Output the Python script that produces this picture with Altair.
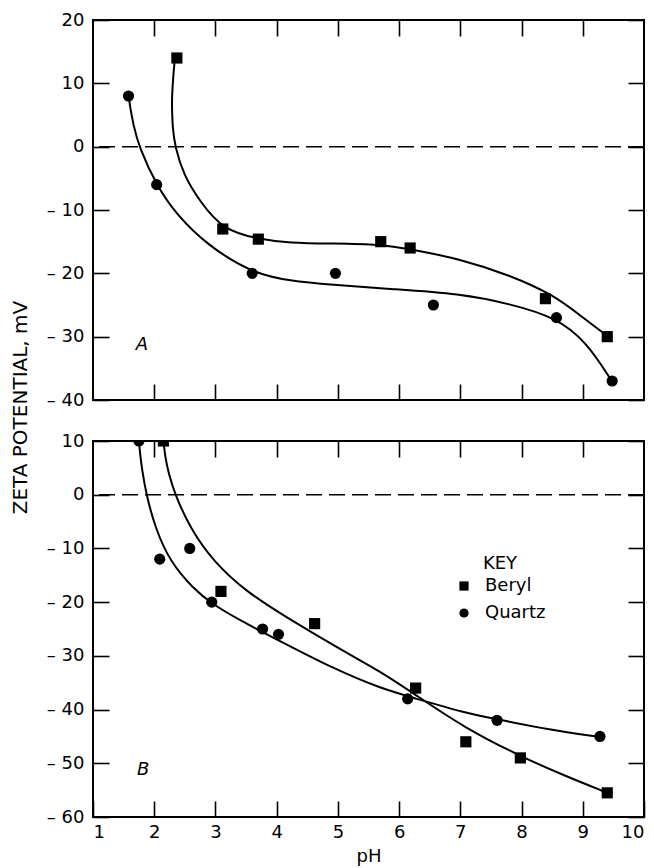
import altair as alt
import pandas as pd

MINERALS = ["Beryl", "Quartz"]
SHAPES = ["square", "circle"]

# ---------------- Panel A : measured points ----------------
a_beryl_ph = [2.37, 3.12, 3.70, 5.70, 6.18, 8.39, 9.40]
a_beryl_zeta = [14, -13, -14.6, -15, -16, -24, -30]
a_quartz_ph = [1.58, 2.04, 3.60, 4.96, 6.56, 8.57, 9.48]
a_quartz_zeta = [8, -6, -20, -20, -25, -27, -37]

# ---------------- Panel A : drawn curves ----------------
a_beryl_curve_ph = [2.33, 2.31, 2.29, 2.29, 2.30, 2.34, 2.48, 2.75, 3.12, 3.70, 4.22, 4.87,
                    5.70, 6.18, 6.99, 7.81, 8.52, 8.95, 9.40]
a_beryl_curve_zeta = [13.2, 11.0, 8.0, 6.0, 3.0, 0.0, -4.5, -8.7, -13.1, -14.6, -15.2, -15.3,
                      -15.4, -16.2, -17.7, -20.3, -23.4, -26.6, -29.9]
a_quartz_curve_ph = [1.59, 1.60, 1.66, 1.75, 2.04, 2.37, 2.86, 3.60, 4.22, 4.87, 5.90,
                     6.99, 7.81, 8.57, 9.06, 9.48]
a_quartz_curve_zeta = [7.6, 6.6, 3.4, 0.0, -6.2, -10.8, -15.5, -20.0, -21.2, -21.8, -22.5,
                       -23.2, -24.8, -27.0, -30.8, -37.1]

# ---------------- Panel B : measured points ----------------
b_beryl_ph = [2.15, 3.09, 4.62, 6.27, 7.09, 7.98, 9.40]
b_beryl_zeta = [10, -18, -24, -36, -46, -49, -55.5]
b_quartz_ph = [1.75, 2.09, 2.58, 2.94, 3.77, 4.03, 6.14, 7.60, 9.28]
b_quartz_zeta = [10, -12, -10, -20, -25, -26, -38, -42, -45]

# ---------------- Panel B : drawn curves ----------------
b_beryl_curve_ph = [2.15, 2.18, 2.23, 2.34, 2.59, 2.97, 3.51, 4.11, 4.98, 5.71, 6.26, 7.07,
                    7.98, 8.70, 9.40]
b_beryl_curve_zeta = [10, 7.0, 4.2, 0.0, -6.3, -12.5, -18.1, -22.5, -28.4, -33.0, -37.2, -43.4,
                      -48.7, -52.3, -55.5]
b_quartz_curve_ph = [1.75, 1.77, 1.80, 1.87, 2.02, 2.26, 2.64, 2.94, 3.40, 4.03, 4.95, 5.71,
                     6.26, 7.07, 7.60, 8.42, 9.28]
b_quartz_curve_zeta = [10, 7.5, 4.8, 0.0, -6.3, -12.5, -17.5, -20.3, -23.4, -27.1, -32.5, -36.1,
                       -37.9, -40.6, -41.8, -43.7, -45.1]

# ---------------- annotations / ticks ----------------
panel_label_text = ["A", "B"]
panel_label_ph = [1.80, 1.82]
panel_label_zeta = [-31.3, -51.2]
zero_line = [0]

x_tick_values = [2, 3, 4, 5, 6, 7, 8, 9]
x_label_values = [1, 2, 3, 4, 5, 6, 7, 8, 9, 10]
a_y_values = [20, 10, 0, -10, -20, -30, -40]
b_y_values = [10, 0, -10, -20, -30, -40, -50, -60]
a_y_domain = [-40, 20]
b_y_domain = [-60, 10]

FONT = "DejaVu Sans"
TICK = 16
TW = 1.6
W = 551
MINUS_EXPR = "datum.value < 0 ? '\u2013 ' + abs(datum.value) : datum.label"


def points_df(pb, zb, pq, zq):
    rows = [{"ph": p, "zeta": z, "mineral": "Beryl"} for p, z in zip(pb, zb)]
    rows += [{"ph": p, "zeta": z, "mineral": "Quartz"} for p, z in zip(pq, zq)]
    return pd.DataFrame(rows)


def curves_df(pb, zb, pq, zq):
    rows = [{"ph": p, "zeta": z, "mineral": "Beryl", "i": i} for i, (p, z) in enumerate(zip(pb, zb))]
    rows += [{"ph": p, "zeta": z, "mineral": "Quartz", "i": i} for i, (p, z) in enumerate(zip(pq, zq))]
    return pd.DataFrame(rows)


def tick_axis(orient, values):
    return alt.Axis(orient=orient, values=values, offset=-TICK, tickSize=TICK, tickWidth=TW,
                    tickColor="black", domain=False, grid=False, labels=False, title=None)


def panel(idx, pts, crv, y_domain, y_values, height, bottom_labels, legend):
    xs = alt.Scale(domain=[1, 10], nice=False, zero=False)
    ys = alt.Scale(domain=y_domain, nice=False, zero=False)

    left_kw = dict(orient="left", values=y_values, offset=-TICK, tickSize=TICK, tickWidth=TW,
                   tickColor="black", domain=False, grid=False, labelFont=FONT, labelFontSize=18,
                   labelColor="black", labelPadding=9, labelExpr=MINUS_EXPR)
    if idx == 0:
        left_kw.update(title="ZETA POTENTIAL, mV", titleFont=FONT, titleFontSize=20,
                       titleFontWeight="normal", titleColor="black", titleX=-79, titleY=387)
    else:
        left_kw.update(title=None)
    left_axis = alt.Axis(**left_kw)

    if bottom_labels:
        bottom_axis = alt.Axis(orient="bottom", values=x_label_values, offset=-TICK, tickSize=TICK,
                               tickWidth=TW, tickColor="black", domain=False, grid=False,
                               labelFont=FONT, labelFontSize=18, labelColor="black", labelPadding=6,
                               title="pH", titleFont=FONT, titleFontSize=18, titleFontWeight="normal",
                               titleColor="black", titlePadding=6)
    else:
        bottom_axis = tick_axis("bottom", x_tick_values)

    zero = alt.Chart(pd.DataFrame({"zeta": zero_line})).mark_rule(
        color="black", strokeWidth=1.5, strokeDash=[16, 7]
    ).encode(y=alt.Y("zeta:Q", scale=ys, axis=None))

    lines = alt.Chart(crv).mark_line(
        interpolate="basis", color="black", strokeWidth=2
    ).encode(
        x=alt.X("ph:Q", scale=xs, axis=bottom_axis),
        y=alt.Y("zeta:Q", scale=ys, axis=left_axis),
        detail="mineral:N",
        order="i:Q",
    )

    shape_kw = dict(scale=alt.Scale(domain=MINERALS, range=SHAPES))
    if legend:
        shape_kw["legend"] = alt.Legend(
            orient="none", legendX=362, legendY=114, title="KEY", titleFont=FONT,
            titleFontSize=18, titleFontWeight="normal", titleColor="black", titleAnchor="middle",
            titlePadding=4, labelFont=FONT, labelFontSize=18, labelColor="black", labelOffset=12,
            symbolSize=85, symbolFillColor="black", symbolStrokeWidth=0, rowPadding=9, padding=0)
    else:
        shape_kw["legend"] = None

    points = alt.Chart(pts).mark_point(
        filled=True, size=125, opacity=1, color="black", clip=True
    ).encode(
        x=alt.X("ph:Q", scale=xs, axis=tick_axis("top", x_tick_values)),
        y=alt.Y("zeta:Q", scale=ys, axis=tick_axis("right", y_values)),
        shape=alt.Shape("mineral:N", **shape_kw),
    )

    label = alt.Chart(pd.DataFrame({
        "ph": [panel_label_ph[idx]], "zeta": [panel_label_zeta[idx]], "txt": [panel_label_text[idx]]
    })).mark_text(font=FONT, fontSize=18, fontStyle="italic", color="black").encode(
        x=alt.X("ph:Q", scale=xs, axis=None),
        y=alt.Y("zeta:Q", scale=ys, axis=None),
        text="txt:N",
    )

    return alt.layer(zero, lines, points, label).resolve_axis(
        x="independent", y="independent"
    ).properties(width=W, height=height)


top = panel(0,
            points_df(a_beryl_ph, a_beryl_zeta, a_quartz_ph, a_quartz_zeta),
            curves_df(a_beryl_curve_ph, a_beryl_curve_zeta, a_quartz_curve_ph, a_quartz_curve_zeta),
            a_y_domain, a_y_values, 380, False, False)
bottom = panel(1,
               points_df(b_beryl_ph, b_beryl_zeta, b_quartz_ph, b_quartz_zeta),
               curves_df(b_beryl_curve_ph, b_beryl_curve_zeta, b_quartz_curve_ph, b_quartz_curve_zeta),
               b_y_domain, b_y_values, 376, True, True)

chart = alt.vconcat(top, bottom, spacing=41, bounds="flush").resolve_scale(
    shape="independent"
).configure_view(stroke="black", strokeWidth=2).properties(
    padding={"left": 1, "top": 2, "right": 0, "bottom": 0}
)

chart.save("out.html", embed_options={"renderer": "svg", "actions": False})
